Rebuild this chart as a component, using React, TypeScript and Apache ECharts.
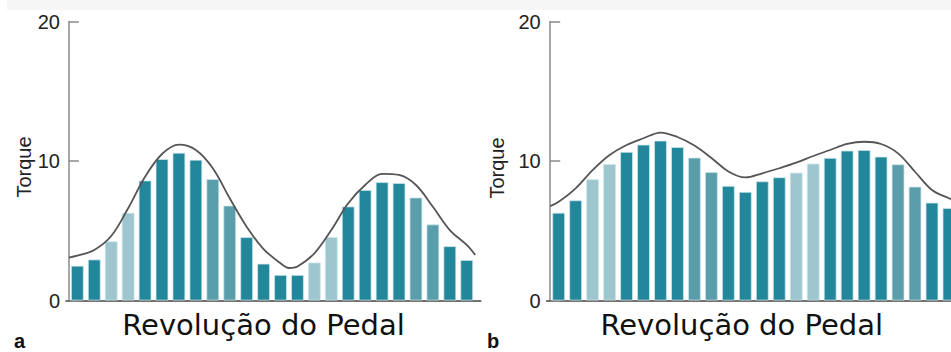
import React, { useEffect, useRef } from "react";
import * as echarts from "echarts";

// Torque per pedal-revolution segment (panel a and panel b)
const barsA = [2.49, 2.94, 4.24, 6.29, 8.6, 10.14, 10.59, 10.09, 8.7, 6.8, 4.54, 2.64, 1.83, 1.83, 2.72, 4.54, 6.74, 7.92, 8.48, 8.42, 7.38, 5.45, 3.89, 2.9];
const barsB = [6.29, 7.18, 8.69, 9.78, 10.65, 11.17, 11.46, 11.0, 10.24, 9.21, 8.21, 7.78, 8.54, 8.83, 9.16, 9.81, 10.22, 10.74, 10.79, 10.31, 9.76, 8.16, 7.01, 6.63];
const shades = ["dark", "dark", "light", "light", "dark", "dark", "dark", "dark", "mid", "mid", "dark", "dark", "dark", "dark", "light", "light", "dark", "dark", "dark", "dark", "mid", "mid", "dark", "dark"];

// Envelope curves (x in segment units, y torque)
const curveXA = [0, 0.5, 1.5, 2.5, 3.5, 4.5, 5.5, 6.5, 7.5, 8.5, 9.5, 10.5, 11.5, 12.5, 13, 13.5, 14.5, 15.5, 16.5, 17.5, 18.5, 19.5, 20.5, 21.5, 22.5, 23.5, 24];
const curveA = [3.08, 3.21, 3.62, 4.62, 6.61, 8.87, 10.5, 11.17, 10.79, 9.48, 7.33, 5.29, 3.69, 2.67, 2.33, 2.44, 3.38, 5.05, 6.97, 8.28, 9.08, 9.0, 8.28, 6.72, 5.05, 3.98, 3.26];
const curveXB = [0, 0.5, 1.5, 2.5, 3.5, 4.5, 5.5, 6.5, 7.5, 8.5, 9.5, 10.5, 11.5, 12.5, 13.5, 14.5, 15.5, 16.5, 17.5, 18.5, 19.5, 20.5, 21.5, 22.5, 23.5, 24];
const curveB = [6.77, 7.08, 8.04, 9.35, 10.43, 11.15, 11.63, 12.04, 11.72, 11.11, 10.22, 9.25, 8.82, 9.12, 9.48, 9.88, 10.36, 10.79, 11.22, 11.38, 11.22, 10.55, 9.23, 7.92, 7.33, 7.06];

const yTickInterval = 10;
const yMax = 20;
const axisTitle = "Revolução do Pedal";
const yTitle = "Torque";
const panelLabels = ["a", "b"];

const shadeColors: Record<string, string> = {
  dark: "#22879a",
  mid: "#5a9eac",
  light: "#9dc6cf",
};

const LABEL_FONT = "Liberation Sans, Arial, Helvetica, sans-serif";

function barData(values: number[]) {
  return values.map((v, i) => ({
    value: [i + 0.5, v],
    itemStyle: { color: shadeColors[shades[i]] },
  }));
}

function curveData(xs: number[], ys: number[]) {
  return xs.map((x, i) => [x, ys[i]]);
}

export default function App() {
  const ref = useRef<HTMLDivElement>(null);
  useEffect(() => {
    document.body.style.margin = "0";
    if (!ref.current) return;
    const chart = echarts.init(ref.current, null, { renderer: "svg" });

    const yAxisBase = (gridIndex: number) => ({
      type: "value",
      gridIndex,
      min: 0,
      max: yMax,
      interval: yTickInterval,
      axisLine: { show: true, lineStyle: { color: "#8a8a8a", width: 1.5 } },
      axisTick: { show: true, inside: true, length: 10, lineStyle: { color: "#8a8a8a", width: 1.5 } },
      splitLine: { show: false },
      axisLabel: { margin: 6, color: "#222", fontSize: 20, fontFamily: LABEL_FONT },
    });
    const xAxisBase = (gridIndex: number, min: number, max: number) => ({
      type: "value",
      gridIndex,
      min,
      max,
      axisLine: { show: true, onZero: false, lineStyle: { color: "#444", width: 1.6 } },
      axisTick: { show: false },
      axisLabel: { show: false },
      splitLine: { show: false },
    });

    const barStyle = { borderColor: "rgba(205,232,236,0.9)", borderWidth: 0.8 };

    chart.setOption({
      animation: false,
      backgroundColor: "#ffffff",
      grid: [
        { left: 66, top: 21.5, width: 414.8, height: 279 },
        { left: 546.7, top: 21.5, width: 404.3, height: 279 },
      ],
      xAxis: [xAxisBase(0, -0.17, 24.33), xAxisBase(1, -0.206, 23.62)],
      yAxis: [yAxisBase(0), yAxisBase(1)],
      series: [
        {
          type: "bar",
          xAxisIndex: 0,
          yAxisIndex: 0,
          barWidth: 12.7,
          itemStyle: barStyle,
          data: barData(barsA),
        },
        {
          type: "line",
          xAxisIndex: 0,
          yAxisIndex: 0,
          smooth: 0.35,
          symbol: "none",
          lineStyle: { color: "#555", width: 1.8 },
          data: curveData(curveXA, curveA),
          z: 3,
        },
        {
          type: "bar",
          xAxisIndex: 1,
          yAxisIndex: 1,
          barWidth: 12.7,
          itemStyle: barStyle,
          data: barData(barsB),
        },
        {
          type: "line",
          xAxisIndex: 1,
          yAxisIndex: 1,
          smooth: 0.35,
          symbol: "none",
          lineStyle: { color: "#555", width: 1.8 },
          data: curveData(curveXB, curveB),
          z: 3,
        },
      ],
      graphic: [
        { type: "rect", left: 7, top: 0, shape: { width: 944, height: 10 }, style: { fill: "#f6f6f6" }, z: -10 },
        {
          type: "text",
          x: 23.5,
          y: 167,
          rotation: Math.PI / 2,
          style: { text: yTitle, fill: "#222", font: `20px ${LABEL_FONT}`, align: "center", verticalAlign: "middle" },
        },
        {
          type: "text",
          x: 496.5,
          y: 168,
          rotation: Math.PI / 2,
          style: { text: yTitle, fill: "#222", font: `20px ${LABEL_FONT}`, align: "center", verticalAlign: "middle" },
        },
        {
          type: "text",
          x: 263.5,
          y: 325,
          style: { text: axisTitle, fill: "#111", font: `29px "DejaVu Sans", Verdana, sans-serif`, align: "center", verticalAlign: "middle" },
        },
        {
          type: "text",
          x: 741.7,
          y: 325,
          style: { text: axisTitle, fill: "#111", font: `29px "DejaVu Sans", Verdana, sans-serif`, align: "center", verticalAlign: "middle" },
        },
        {
          type: "text",
          x: 14,
          y: 341,
          style: { text: panelLabels[0], fill: "#111", font: `bold 20px ${LABEL_FONT}`, align: "left", verticalAlign: "middle" },
        },
        {
          type: "text",
          x: 487,
          y: 341,
          style: { text: panelLabels[1], fill: "#111", font: `bold 20px ${LABEL_FONT}`, align: "left", verticalAlign: "middle" },
        },
      ],
    });
    return () => chart.dispose();
  }, []);
  return <div ref={ref} style={{ width: 951, height: 352 }} />;
}
